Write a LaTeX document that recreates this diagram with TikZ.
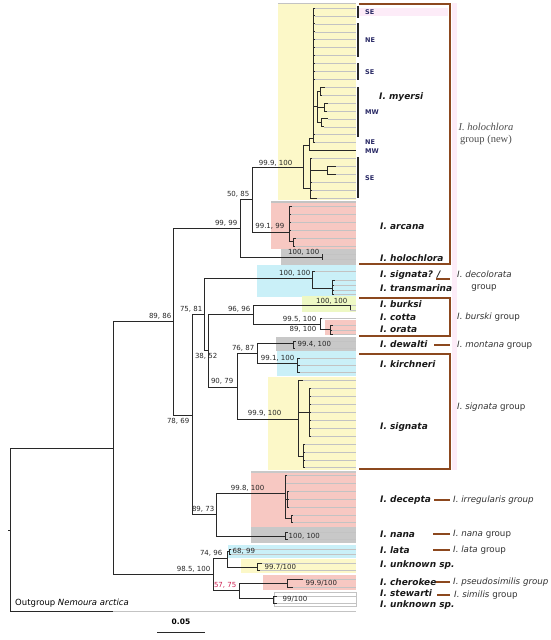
\documentclass[tikz,border=0pt]{standalone}
\usepackage{fontspec}
\setmainfont{DejaVu Sans}
\newfontfamily\grpserif{Liberation Serif}
\definecolor{treeline}{RGB}{40,40,40}
\definecolor{tipline}{RGB}{195,195,195}
\definecolor{bracketbrown}{RGB}{140,72,30}
\definecolor{boxyellow}{RGB}{252,248,200}
\definecolor{boxpink}{RGB}{247,200,194}
\definecolor{boxgrey}{RGB}{200,200,200}
\definecolor{boxcyan}{RGB}{202,240,248}
\definecolor{boxlime}{RGB}{238,248,196}
\definecolor{ghostpink}{RGB}{253,236,248}
\definecolor{regionnavy}{RGB}{40,40,100}
\definecolor{supportred}{RGB}{205,30,80}

\begin{document}
\begin{tikzpicture}[x=1pt, y=-1pt,
  br/.style={treeline, line width=0.9pt},
  tip/.style={tipline, line width=0.5pt},
  grp/.style={bracketbrown, line width=1.5pt},
  bar/.style={treeline, line width=2pt},
  bs/.style={font=\fontsize{7}{8}\selectfont, text=black!85, inner sep=0.5pt, anchor=east},
  bsr/.style={bs, anchor=west},
  sp/.style={font=\fontsize{9}{10}\selectfont\bfseries\itshape, text=black!90, inner sep=0pt, anchor=west},
  gl/.style={font=\fontsize{8.7}{10}\selectfont, text=black!80, inner sep=0pt, anchor=west},
  reg/.style={font=\fontsize{6.5}{7}\selectfont\bfseries, text=regionnavy, inner sep=0pt, anchor=west}]
\useasboundingbox (0,0) rectangle (550,640);

% coloured clade boxes
\fill[boxyellow] (278,3) rectangle (356,200);
\draw[tipline] (278,3) -- (356,3);
\fill[boxpink] (271,201) rectangle (356,249);
\draw[tipline, line width=1.5pt] (271,202) -- (356,202);
\fill[boxgrey] (281,249) rectangle (356,265);
\fill[boxcyan] (257,265) rectangle (356,297);
\fill[boxlime] (302,296) rectangle (356,312);
\fill[boxpink] (325,320) rectangle (356,335);
\fill[boxgrey] (276,337) rectangle (356,351);
\fill[boxcyan] (277,351) rectangle (356,376);
\fill[boxyellow] (268,377) rectangle (356,470);
\fill[boxpink] (251,471) rectangle (356,527);
\draw[boxgrey, line width=1.5pt] (251,472) -- (356,472);
\fill[boxgrey] (251,527) rectangle (356,543);
\fill[boxcyan] (228,545) rectangle (356,558);
\fill[boxyellow] (241,559) rectangle (356,573);
\fill[boxpink] (263,575) rectangle (356,590);
\draw[tipline] (274,592) rectangle (356,606);
\fill[ghostpink] (358,8) rectangle (448,16);
\fill[ghostpink] (452,3) rectangle (457,470);

% tips
\foreach \x/\y in {314.5/8,314.5/15.9,314.5/23.8,314.5/31.8,315/39.7,315/47.6,314.5/55.5,
  314.5/63.4,314.5/71.4,314.5/79.3,325/87.2,322/95.1,328/103,327/111,328/118.9,324/126.8,
  315/134.7,315/142.6,312/158.5,336/166.4,336/174.3,312/182.2,312/190.2,317/198.1,
  292/206,291/214,291/222,291/230,296/238,295/246,323/254.5,323/259,
  315/271,335/280,334/285,334/290,334/294,350/305,350/310,322/318,333/325,332/330,333/334,
  296/341,295/348,300/358,300/365,299/372,
  303/380,311/388,311/396,311/404,311/412,311/420,311/428,311/436,305/444,305/452,305/460,305/467,
  287/475,286/483,289/491,289/499,289/507,293/515,293/522,288/532,288/539,
  231/549,231/554,262/563,260/570,303/579,293/587,277/596,277/603,113/611}
  \draw[tip] (\x,\y) -- (356,\y);

% I. myersi
\draw[br] (313,8) -- (313,142.6);
\foreach \y in {8,15.9,23.8,31.8,39.7,47.6,55.5,63.4,71.4,79.3,134.7,142.6}
  \draw[br] (313,\y) -- (314.5,\y);
\draw[br] (313,106) -- (317,106) (317,91) -- (317,122);
\draw[br] (317,91) -- (320,91) (320,87.2) -- (320,95.1) (320,87.2) -- (325,87.2) (320,95.1) -- (322,95.1);
\draw[br] (317,107) -- (324,107) (324,103) -- (324,111) (324,103) -- (328,103) (324,111) -- (327,111);
\draw[br] (317,122) -- (321,122) (321,118.9) -- (321,126.8) (321,118.9) -- (328,118.9) (321,126.8) -- (324,126.8);
\draw[br] (313,138) -- (309,138) -- (309,150.6) -- (356,150.6);
\draw[br] (303,145) -- (309,145) (303,145) -- (303,188) -- (310,188);
\draw[br] (310,158.5) -- (310,198.1);
\foreach \y in {158.5,182.2,190.2} \draw[br] (310,\y) -- (312,\y);
\draw[br] (310,198.1) -- (317,198.1);
\draw[br] (310,170.3) -- (327,170.3) (327,166.4) -- (327,174.3) (327,166.4) -- (336,166.4) (327,174.3) -- (336,174.3);
\draw[br] (252,167) -- (303,167);

% I. arcana, I. holochlora
\draw[br] (252,232) -- (289,232) (289,206) -- (289,241);
\foreach \x/\y in {292/206,291/214,291/222,291/230} \draw[br] (289,\y) -- (\x,\y);
\draw[br] (289,241) -- (293,241) (293,238) -- (293,246) (293,238) -- (296,238) (293,246) -- (295,246);
\draw[br] (240,257) -- (322,257) (322,254.5) -- (322,259) (322,254.5) -- (323,254.5) (322,259) -- (323,259);
\draw[br] (240,199) -- (252,199) (252,167) -- (252,232);
\draw[br] (173,228) -- (240,228) (240,199) -- (240,257);

% decolorata, burski, montana, signata groups
\draw[br] (204,278) -- (312,278) (312,271) -- (312,288) (312,271) -- (315,271) (312,288) -- (332,288) (332,280) -- (332,294);
\foreach \x/\y in {335/280,334/285,334/290,334/294} \draw[br] (332,\y) -- (\x,\y);
\draw[br] (253,305) -- (350,305) -- (350,310);
\draw[br] (253,324) -- (320,324) (320,318) -- (320,329) (320,318) -- (322,318) (320,329) -- (330,329) (330,325) -- (330,334);
\foreach \x/\y in {333/325,332/330,333/334} \draw[br] (330,\y) -- (\x,\y);
\draw[br] (208,314) -- (253,314) (253,305) -- (253,324);
\draw[br] (257,343) -- (293,343) (293,341) -- (293,348) (293,341) -- (296,341) (293,348) -- (295,348);
\draw[br] (257,363) -- (297,363) (297,358) -- (297,372);
\foreach \y in {358,365,372} \draw[br] (297,\y) -- (299.5,\y);
\draw[br] (237,353) -- (257,353) (257,343) -- (257,363);
\draw[br] (237,419) -- (298,419) (298,380) -- (298,456) (298,380) -- (303,380);
\draw[br] (298,412) -- (309,412) (309,388) -- (309,436);
\foreach \y in {388,396,404,412,420,428,436} \draw[br] (309,\y) -- (311,\y);
\draw[br] (298,456) -- (303,456) (303,444) -- (303,467);
\foreach \y in {444,452,460,467} \draw[br] (303,\y) -- (305,\y);
\draw[br] (208,387) -- (237,387) (237,353) -- (237,419);
\draw[br] (204,350) -- (208,350) (208,314) -- (208,387);
\draw[br] (192,314) -- (204,314) (204,278) -- (204,350);

% irregularis, nana groups
\draw[br] (216,493) -- (285,493) (285,475) -- (285,518) (285,475) -- (287,475) (285,483) -- (286,483);
\draw[br] (285,499) -- (287,499) (287,491) -- (287,507);
\foreach \y in {491,499,507} \draw[br] (287,\y) -- (289,\y);
\draw[br] (285,518) -- (291,518) (291,515) -- (291,522) (291,515) -- (293,515) (291,522) -- (293,522);
\draw[br] (216,536) -- (285,536) (285,532) -- (285,539) (285,532) -- (288,532) (285,539) -- (288,539);
\draw[br] (192,514) -- (216,514) (216,493) -- (216,536);
\draw[br] (173,415) -- (192,415) (192,314) -- (192,514);
\draw[br] (113,321) -- (173,321) (173,228) -- (173,415);

% lower clade
\draw[br] (227,551) -- (229,551) (229,549) -- (229,554) (229,549) -- (231,549) (229,554) -- (231,554);
\draw[br] (227,567) -- (257,567) (257,563) -- (257,570) (257,563) -- (262,563) (257,570) -- (260,570);
\draw[br] (213,558) -- (227,558) (227,551) -- (227,567);
\draw[br] (239,583) -- (287,583) (287,579) -- (287,587) (287,579) -- (303,579) (287,587) -- (293,587);
\draw[br] (239,598) -- (273,598) (273,596) -- (273,603) (273,596) -- (277,596) (273,603) -- (277,603);
\draw[br] (213,590) -- (239,590) (239,583) -- (239,598);
\draw[br] (113,574) -- (213,574) (213,558) -- (213,590);
\draw[br] (10,448) -- (113,448) (113,321) -- (113,574);
\draw[br] (8,530) -- (10,530) (10,448) -- (10,611) -- (113,611);

% support values
\node[bs] (s-myersi) at (293,163) {99.9, 100};
\node[bs] (s-5085) at (250,194) {50, 85};
\node[bs] (s-9999) at (238,223) {99, 99};
\node[bs] (s-arcana) at (285,226) {99.1, 99};
\node[bs] (s-holo) at (320,252) {100, 100};
\node[bs] (s-8986) at (172,316) {89, 86};
\node[bs] (s-7581) at (203,309) {75, 81};
\node[bs] (s-decol) at (311,273) {100, 100};
\node[bs] (s-9696) at (251,309) {96, 96};
\node[bs] (s-burksi) at (348,301) {100, 100};
\node[bs] (s-cotta) at (317,319) {99.5, 100};
\node[bs] (s-orata) at (317,329) {89, 100};
\node[bs] (s-3852) at (218,356) {38, 52};
\node[bs] (s-7687) at (255,348) {76, 87};
\node[bsr] (s-dewalti) at (297,344) {99.4, 100};
\node[bs] (s-kirch) at (295,358) {99.1, 100};
\node[bs] (s-9079) at (234,381) {90, 79};
\node[bs] (s-signata) at (282,413) {99.9, 100};
\node[bs] (s-7869) at (190,421) {78, 69};
\node[bs] (s-decepta) at (265,488) {99.8, 100};
\node[bs] (s-8973) at (215,509) {89, 73};
\node[bsr] (s-nana) at (288,536) {100, 100};
\node[bs] (s-985) at (211,569) {98.5, 100};
\node[bs] (s-7496) at (223,553) {74, 96};
\node[bsr] (s-lata) at (232,551) {68, 99};
\node[bsr] (s-unk) at (264,567) {99.7/100};
\node[bs, text=supportred] (s-5775) at (237,585) {57, 75};
\node[bsr] (s-cher) at (305,583) {99.9/100};
\node[bsr] (s-stew) at (282,599) {99/100};

% regions within I. myersi
\draw[bar] (358,6) -- (358,18) (358,23) -- (358,57) (358,63) -- (358,80) (358,87) -- (358,137) (358,157) -- (358,198);
\node[reg] (r-se1) at (365,12) {SE};
\node[reg] (r-ne1) at (365,40) {NE};
\node[reg] (r-se2) at (365,72) {SE};
\node[reg] (r-mw1) at (365,112) {MW};
\node[reg] (r-ne2) at (365,142) {NE};
\node[reg] (r-mw2) at (365,151) {MW};
\node[reg] (r-se3) at (365,178) {SE};

% species
\node[sp] (myersi) at (379,97) {I. myersi};
\node[sp] (arcana) at (380,226) {I. arcana};
\node[sp] (holochlora) at (380,258) {I. holochlora};
\node[sp] (signataq) at (380,275) {I. signata? /};
\node[sp] (transmarina) at (380,288) {I. transmarina};
\node[sp] (burksi) at (380,304) {I. burksi};
\node[sp] (cotta) at (380,317) {I. cotta};
\node[sp] (orata) at (380,329) {I. orata};
\node[sp] (dewalti) at (380,344) {I. dewalti};
\node[sp] (kirchneri) at (380,364) {I. kirchneri};
\node[sp] (signata) at (380,427) {I. signata};
\node[sp] (decepta) at (380,500) {I. decepta};
\node[sp] (nana) at (380,534) {I. nana};
\node[sp] (lata) at (380,550) {I. lata};
\node[sp] (unknown1) at (380,565) {I. unknown sp.};
\node[sp] (cherokee) at (380,582) {I. cherokee};
\node[sp] (stewarti) at (380,593) {I. stewarti};
\node[sp] (unknown2) at (380,605) {I. unknown sp.};

% species groups
\draw[grp] (359,4) -- (450,4) -- (450,264) -- (359,264);
\draw[grp] (359,298) -- (450,298) -- (450,336) -- (359,336);
\draw[grp] (359,354) -- (450,354) -- (450,469) -- (359,469);
\foreach \xa/\y in {436/279,434/345,434/500,433/534,433/550,436/582,437/595}
  \draw[grp] (\xa,\y) -- (450,\y);
\node[font=\grpserif\itshape\fontsize{10.5}{12}\selectfont, text=black!70, inner sep=0pt] (g-holo) at (486,127) {I. holochlora};
\node[font=\grpserif\fontsize{10.5}{12}\selectfont, text=black!70, inner sep=0pt] (g-holo2) at (486,140) {group (new)};
\node[gl] (g-decol) at (457,274) {\itshape I. decolorata};
\node[gl, anchor=center] (g-decol2) at (484,288) {group};
\node[gl] (g-burski) at (457,317) {\itshape I. burski\upshape{} group};
\node[gl] (g-montana) at (457,345) {\itshape I. montana\upshape{} group};
\node[gl] (g-signata) at (457,407) {\itshape I. signata\upshape{} group};
\node[gl] (g-irreg) at (453,500) {\itshape I. irregularis group};
\node[gl] (g-nana) at (453,534) {\itshape I. nana\upshape{} group};
\node[gl] (g-lata) at (453,550) {\itshape I. lata\upshape{} group};
\node[gl] (g-pseudo) at (453,582) {\itshape I. pseudosimilis group};
\node[gl] (g-similis) at (454,595) {\itshape I. similis\upshape{} group};

% outgroup and scale
\node[font=\fontsize{8.5}{9}\selectfont, inner sep=0pt, anchor=west] (outgroup) at (15,603) {Outgroup \textit{Nemoura arctica}};
\coordinate (sc-a) at (157,632);
\coordinate (sc-b) at (205,632);
\draw[treeline, line width=1pt] (sc-a) -- (sc-b);
\node[font=\fontsize{7.5}{8}\selectfont\bfseries, inner sep=0pt] (scale) at (181,622) {0.05};
\end{tikzpicture}
\end{document}
